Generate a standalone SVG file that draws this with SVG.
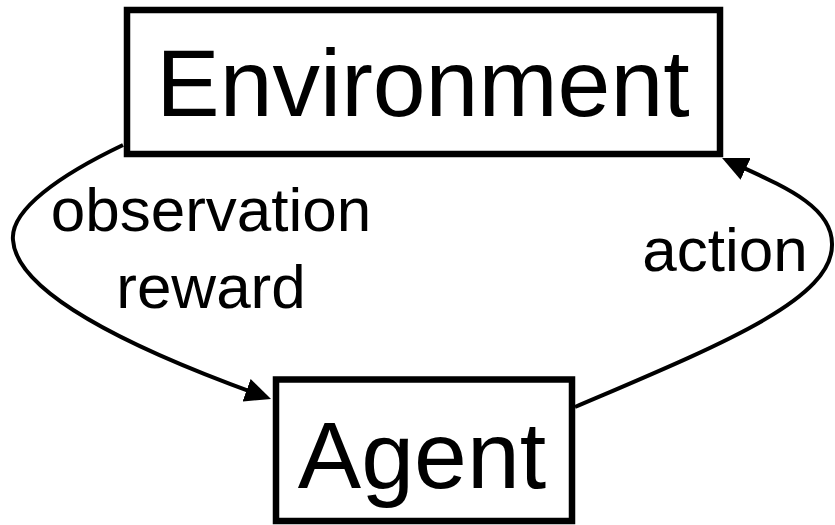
<svg xmlns="http://www.w3.org/2000/svg" width="835" height="525" viewBox="0 0 835 525">
  <style>
    .box { fill: #fff; stroke: #000; stroke-width: 6.5; }
    .edge { fill: none; stroke: #000; stroke-width: 4; }
    text { font-family: "Liberation Sans", Arial, sans-serif; fill: #000; text-anchor: middle; }
    .big { font-size: 95px; }
    .lbl { font-size: 62px; }
  </style>
  <defs>
    <marker id="arrow" markerUnits="userSpaceOnUse" markerWidth="26" markerHeight="24" refX="20" refY="12" orient="auto" viewBox="0 0 26 24">
      <path d="M0,0 L26,12 L0,24 Z" fill="#000"/>
    </marker>
  </defs>
  <rect width="835" height="525" fill="#fff"/>
  <g id="connectors">
    <path class="edge" d="M123,145 C60,175 10,210 13,240 C16,290 120,345 265.4,397" marker-end="url(#arrow)"/>
    <path class="edge" d="M575,407 C720,345 832,300 832,245 C833,205 780,185 727.5,160.5" marker-end="url(#arrow)"/>
  </g>
  <g id="environment">
    <rect class="box" x="127" y="10" width="593" height="144"/>
    <text class="big" x="423" y="116">Environment</text>
  </g>
  <g id="agent">
    <rect class="box" x="276" y="379.5" width="296" height="141.5"/>
    <text class="big" x="422" y="488">Agent</text>
  </g>
  <g id="labels">
    <text class="lbl" x="211" y="231">observation</text>
    <text class="lbl" x="211" y="308">reward</text>
    <text class="lbl" x="725" y="271">action</text>
  </g>
</svg>
